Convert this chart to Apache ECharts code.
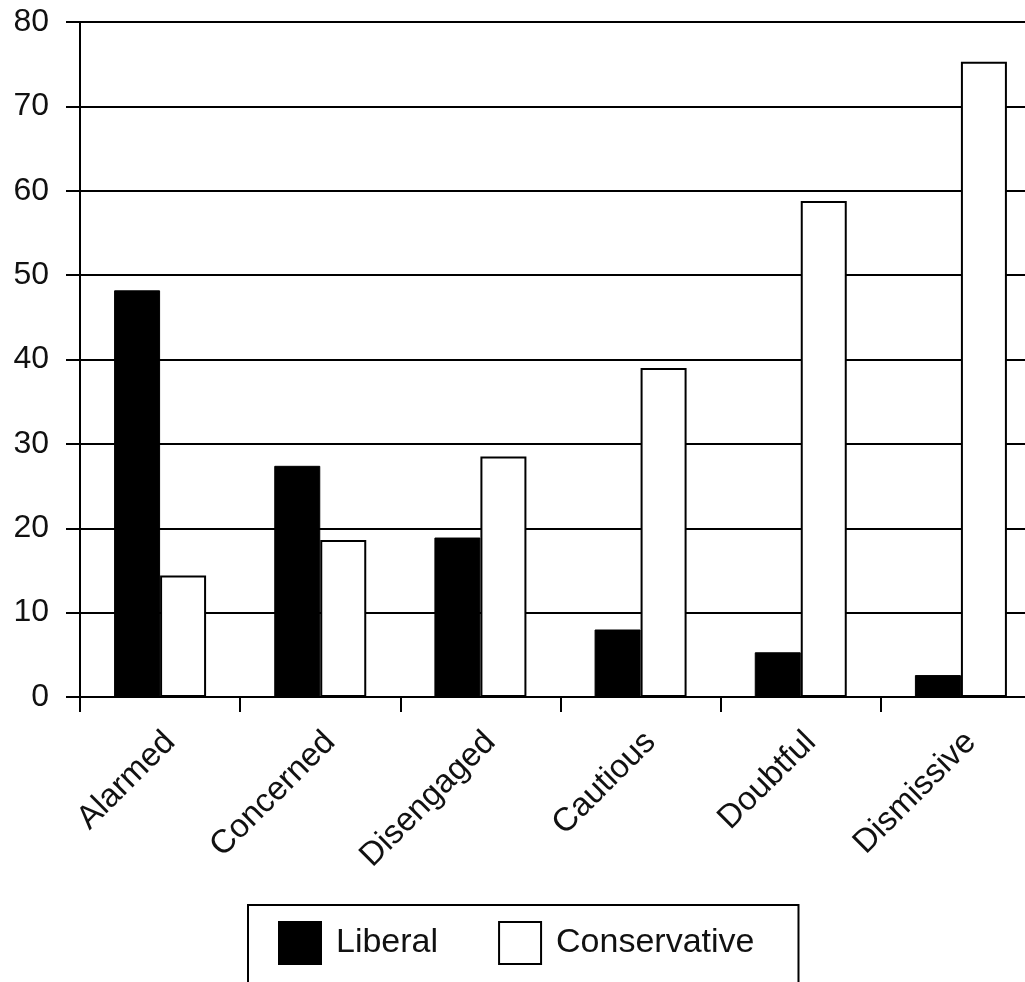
<!DOCTYPE html>
<html>
<head>
<meta charset="utf-8">
<script src="https://cdn.jsdelivr.net/npm/echarts@6/dist/echarts.min.js"></script>
<style>
  html, body { margin: 0; padding: 0; background: #fff; overflow: hidden; }
  #main { width: 1045px; height: 982px; }
</style>
</head>
<body>
<div id="main"></div>
<script>
var categories = ['Alarmed', 'Concerned', 'Disengaged', 'Cautious', 'Doubtful', 'Dismissive'];
var liberal = [48.2, 27.4, 18.9, 8.0, 5.3, 2.6];
var conservative = [14.4, 18.6, 28.5, 39.0, 58.8, 75.3];

var font = '"Liberation Sans", Arial, sans-serif';

// plot runs past the right edge of the window, like the scanned figure
var chart = echarts.init(document.getElementById('main'));
var option = {
  backgroundColor: '#fff',
  animation: false,
  textStyle: { fontFamily: font },
  grid: { left: 80, top: 22, width: 961, height: 675 },
  legend: {
    data: ['Liberal', 'Conservative'],
    left: 248,
    top: 905,
    orient: 'horizontal',
    icon: 'rect',
    itemWidth: 42,
    itemHeight: 42,
    itemGap: 60,
    padding: [16, 44, 24, 30],
    borderColor: '#000',
    borderWidth: 2,
    textStyle: { fontSize: 34, color: '#111', fontFamily: font, padding: [0, 0, 0, 10] }
  },
  xAxis: {
    type: 'category',
    data: categories,
    axisLine: { lineStyle: { color: '#000', width: 2 } },
    axisTick: { show: true, length: 15, lineStyle: { color: '#000', width: 2 } },
    axisLabel: { rotate: 45, fontSize: 33, color: '#111', margin: 50, padding: [0, -14, 0, 0], fontFamily: font },
    splitLine: { show: false }
  },
  yAxis: {
    type: 'value',
    min: 0,
    max: 80,
    interval: 10,
    axisLine: { show: true, lineStyle: { color: '#000', width: 2 } },
    axisTick: { show: true, length: 14, lineStyle: { color: '#000', width: 2 } },
    axisLabel: { fontSize: 32, color: '#111', margin: 31, fontFamily: font },
    splitLine: { show: true, lineStyle: { color: '#000', width: 2 } }
  },
  series: [
    {
      name: 'Liberal',
      type: 'bar',
      data: liberal,
      barWidth: 46,
      barGap: '0%',
      itemStyle: { color: '#000', borderColor: '#000', borderWidth: 1 }
    },
    {
      name: 'Conservative',
      type: 'bar',
      data: conservative,
      barWidth: 46,
      itemStyle: { color: '#fff', borderColor: '#000', borderWidth: 2 }
    }
  ]
};
chart.setOption(option);
</script>
</body>
</html>
